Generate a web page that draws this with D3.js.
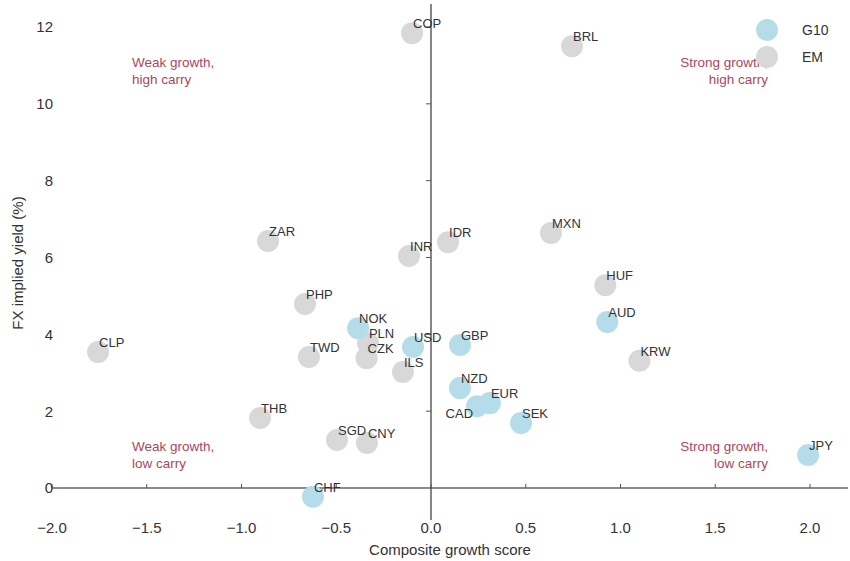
<!DOCTYPE html>
<html>
<head>
<meta charset="utf-8">
<script src="https://cdn.jsdelivr.net/npm/d3@7"></script>
<style>
  body { margin: 0; background: #fff; }
  text { font-family: "Liberation Sans", Arial, sans-serif; }
</style>
</head>
<body>
<div id="chart"></div>
<script>
// currencies, growth score (x) and implied yield (y)
var codes  = ['COP','BRL','ZAR','INR','IDR','MXN','HUF','KRW','PHP','PLN','CZK','ILS','TWD','CLP','THB','SGD','CNY',
              'AUD','NOK','USD','GBP','NZD','CAD','EUR','SEK','JPY','CHF'];
var growth = [-0.10, 0.744, -0.86, -0.116, 0.09, 0.633, 0.92, 1.10, -0.665, -0.333, -0.34, -0.148, -0.644, -1.757, -0.902, -0.496, -0.338,
              0.93, -0.385, -0.095, 0.153, 0.153, 0.243, 0.311, 0.475, 1.99, -0.623];
var yields = [11.84, 11.5, 6.43, 6.04, 6.40, 6.64, 5.28, 3.31, 4.79, 3.77, 3.38, 3.02, 3.41, 3.54, 1.82, 1.25, 1.17,
              4.32, 4.16, 3.67, 3.72, 2.60, 2.13, 2.21, 1.69, 0.86, -0.23];
var groups = ['EM','EM','EM','EM','EM','EM','EM','EM','EM','EM','EM','EM','EM','EM','EM','EM','EM',
              'G10','G10','G10','G10','G10','G10','G10','G10','G10','G10'];

var xTicks = [-2.0, -1.5, -1.0, -0.5, 0.0, 0.5, 1.0, 1.5, 2.0];
var yTicks = [0, 2, 4, 6, 8, 10, 12];
var legendKeys = ['G10', 'EM'];
var quadrantText = [
  ['Weak growth,', 'high carry'],
  ['Strong growth,', 'high carry'],
  ['Weak growth,', 'low carry'],
  ['Strong growth,', 'low carry']
];

var width = 850, height = 561;

var svg = d3.select("#chart").append("svg")
    .attr("width", width)
    .attr("height", height);

var x = d3.scaleLinear().domain([-2, 2]).range([52, 810]);
var y = d3.scaleLinear().domain([0, 12]).range([488, 27]);

var color = d3.scaleOrdinal().domain(['G10', 'EM']).range(['#b5dde9', '#d8d8d8']);

// axis lines crossing at zero
svg.append("line")
    .attr("x1", x(-2)).attr("x2", x(2.2))
    .attr("y1", y(0)).attr("y2", y(0))
    .attr("stroke", "#666").attr("stroke-width", 1.3);

svg.append("line")
    .attr("x1", x(0)).attr("x2", x(0))
    .attr("y1", y(12.6)).attr("y2", y(-0.83))
    .attr("stroke", "#444").attr("stroke-width", 1.3);

// x ticks on the zero line, labels down at the bottom
svg.append("g").selectAll("line")
    .data(xTicks)
    .join("line")
    .attr("x1", d => x(d)).attr("x2", d => x(d))
    .attr("y1", y(0)).attr("y2", y(0) - 4)
    .attr("stroke", "#555");

svg.append("g").selectAll("text")
    .data(xTicks)
    .join("text")
    .attr("x", d => x(d))
    .attr("y", 533)
    .attr("text-anchor", "middle")
    .attr("font-size", 15)
    .attr("fill", "#333")
    .text(d => d3.format(".1f")(d));

svg.append("g").selectAll("line")
    .data(yTicks.filter(d => d != 0))
    .join("line")
    .attr("x1", x(0)).attr("x2", x(0) - 5)
    .attr("y1", d => y(d)).attr("y2", d => y(d))
    .attr("stroke", "#555");

svg.append("g").selectAll("text")
    .data(yTicks)
    .join("text")
    .attr("x", 53)
    .attr("y", d => y(d))
    .attr("dy", "0.36em")
    .attr("text-anchor", "end")
    .attr("font-size", 15)
    .attr("fill", "#333")
    .text(d => d);

// axis titles
svg.append("text")
    .attr("x", (x(-2) + x(2.2)) / 2)
    .attr("y", 555)
    .attr("text-anchor", "middle")
    .attr("font-size", 15)
    .attr("fill", "#333")
    .text("Composite growth score");

svg.append("text")
    .attr("transform", "translate(23," + 263 + ") rotate(-90)")
    .attr("text-anchor", "middle")
    .attr("font-size", 15)
    .attr("fill", "#333")
    .text("FX implied yield (%)");

// quadrant notes
var quadPos = [
  {x: 132, y: 67, anchor: 'start'},
  {x: 768, y: 67, anchor: 'end'},
  {x: 132, y: 451, anchor: 'start'},
  {x: 768, y: 451, anchor: 'end'}
];
quadrantText.forEach(function(lines, i) {
    var t = svg.append("text")
        .attr("x", quadPos[i].x)
        .attr("y", quadPos[i].y)
        .attr("text-anchor", quadPos[i].anchor)
        .attr("font-size", 13.5)
        .attr("fill", "#a9485c");
    lines.forEach(function(l, j) {
        t.append("tspan").attr("x", quadPos[i].x).attr("dy", j == 0 ? 0 : 17).text(l);
    });
});

// points: EM underneath, G10 on top
var points = codes.map(function(c, i) {
    return {code: c, gx: growth[i], gy: yields[i], group: groups[i]};
});
points.sort(function(a, b) { return (a.group == 'G10') - (b.group == 'G10'); });

svg.append("g").selectAll("circle")
    .data(points)
    .join("circle")
    .attr("cx", d => x(d.gx))
    .attr("cy", d => y(d.gy))
    .attr("r", 11)
    .attr("fill", d => color(d.group));

var leftLabels = ['CAD'];
svg.append("g").selectAll("text")
    .data(points)
    .join("text")
    .attr("x", d => leftLabels.includes(d.code) ? x(d.gx) - 4 : x(d.gx) + 1)
    .attr("y", d => leftLabels.includes(d.code) ? y(d.gy) + 12 : y(d.gy) - 5)
    .attr("text-anchor", d => leftLabels.includes(d.code) ? "end" : "start")
    .attr("font-size", 13)
    .attr("fill", "#333")
    .text(d => d.code);

// legend
var legend = svg.append("g").selectAll("g")
    .data(legendKeys)
    .join("g")
    .attr("transform", (d, i) => "translate(767," + (30 + i * 27) + ")");

legend.append("circle")
    .attr("r", 11)
    .attr("fill", d => color(d));

legend.append("text")
    .attr("x", 35)
    .attr("dy", "0.36em")
    .attr("font-size", 14)
    .attr("fill", "#333")
    .text(d => d);
</script>
</body>
</html>
